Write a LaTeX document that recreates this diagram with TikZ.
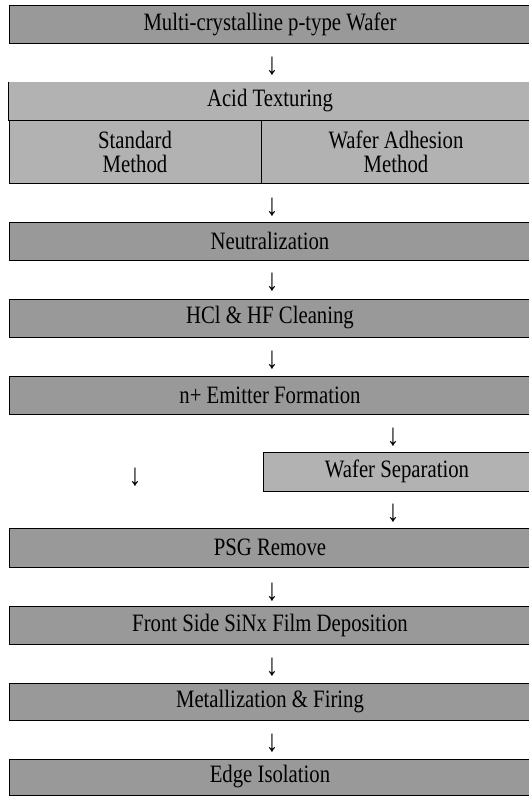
\documentclass[tikz,border=0pt]{standalone}
\usepackage{fontspec}
\setmainfont{Liberation Serif}[FakeStretch=0.83]

\tikzset{
    procbox/.style={draw, line width=1pt, fill=black!40, minimum width=522pt, minimum height=38pt, inner sep=0pt},
    lightbox/.style={procbox, fill=black!30},
    flowarrow/.style={inner sep=0pt, font=\fontsize{31}{31}\selectfont}
}

\begin{document}
\begin{tikzpicture}[
    x=1pt, y=-1pt,
    font=\fontsize{25}{24}\selectfont
]

% Marco de la imagen
\useasboundingbox (0,0) rectangle (529,796);

% 1. Oblea de partida
\node[procbox] (wafer) at (270,24) {Multi-crystalline p-type Wafer};
\node[flowarrow] (f1) at (272,66) {↓};

% 2. Texturizado ácido (cabecera sin borde superior y dos métodos)
\node[procbox, fill=black!30, draw=none] (acid) at (270,101) {Acid Texturing};
\draw[line width=1pt] (acid.north west) -- (acid.south west);
\node[lightbox, minimum width=252pt, minimum height=63pt, align=center] (std) at (135,151.5) {Standard\\Method};
\node[lightbox, minimum width=270pt, minimum height=63pt, align=center] (adh) at (396,151.5) {Wafer Adhesion\\Method};
\node[flowarrow] (f2) at (272,207) {↓};

% 3. Limpiezas
\node[procbox] (neut) at (270,241) {Neutralization};
\node[flowarrow] (f3) at (272,282) {↓};
\node[procbox] (hcl) at (270,318) {HCl \& HF Cleaning};
\node[flowarrow] (f4) at (272,360) {↓};

% 4. Emisor y separación (rama derecha)
\node[procbox] (emit) at (270,395) {n+ Emitter Formation};
\node[flowarrow] (f5) at (393,437) {↓};
\node[flowarrow] (f6) at (135,477) {↓};
\node[lightbox, minimum width=268pt, minimum height=39pt] (sep) at (397,471.5) {Wafer Separation};
\node[flowarrow] (f7) at (393,513) {↓};

% 5. Pasos finales
\node[procbox, minimum height=39pt] (psg) at (270,547.5) {PSG Remove};
\node[flowarrow] (f8) at (272,592) {↓};
\node[procbox] (sinx) at (270,625) {Front Side SiNx Film Deposition};
\node[flowarrow] (f9) at (272,667) {↓};
\node[procbox, minimum height=37pt] (metal) at (270,701.5) {Metallization \& Firing};
\node[flowarrow] (f10) at (272,743) {↓};
\node[procbox, minimum height=36pt] (edge) at (270,777) {Edge Isolation};

\end{tikzpicture}
\end{document}
